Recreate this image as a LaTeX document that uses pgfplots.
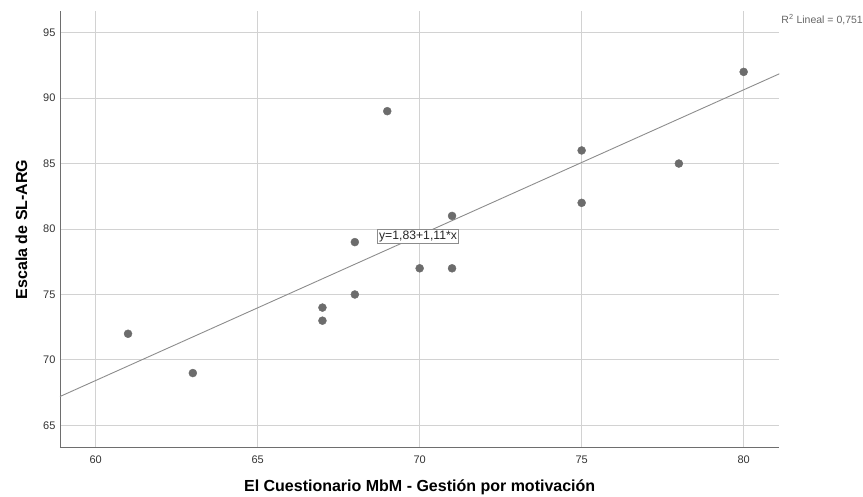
\documentclass[border=0pt]{standalone}
\usepackage{fontspec}
\setmainfont{Liberation Sans}
\usepackage{pgfplots}
\pgfplotsset{compat=1.18}
\definecolor{dotc}{RGB}{108,108,108}
\definecolor{gridc}{RGB}{210,210,210}
\definecolor{linec}{RGB}{140,140,140}
\definecolor{spinec}{RGB}{110,110,110}
\begin{document}
\begin{tikzpicture}
\useasboundingbox (-60pt,-49.3pt) rectangle (803pt,447.7pt);
\begin{axis}[
  scale only axis,
  width=719.3pt, height=436.7pt,
  xmin=58.9, xmax=81.1, ymin=63.3, ymax=96.65,
  xtick={60,65,70,75,80}, ytick={65,70,75,80,85,90,95},
  grid=major,
  major grid style={gridc, line width=1pt},
  major tick length=0pt,
  axis x line*=bottom, axis y line*=left,
  axis line style={spinec, line width=0.8pt, -},
  tick label style={font=\fontsize{11}{13}\selectfont, text=black!80},
  /pgf/number format/assume math mode=true,
  xticklabel style={yshift=-5pt},
  yticklabel style={xshift=-1pt},
  xlabel={\bfseries El Cuestionario MbM - Gestión por motivación},
  ylabel={\bfseries Escala de SL-ARG},
  label style={font=\fontsize{16}{18}\selectfont},
  xlabel style={yshift=-9pt},
  ylabel style={yshift=9pt},
  clip=false,
]
\addplot[only marks, mark=*, mark size=4pt, mark options={fill=dotc, draw=dotc}] coordinates {
  (61,72) (63,69) (67,74) (67,73) (68,75) (68,79) (69,89) (70,77)
  (71,77) (71,81) (75,86) (75,82) (78,85) (80,92)
};
\addplot[linec, line width=0.9pt] coordinates {(58.9,67.209) (81.1,91.851)};
\node[draw=linec, fill=white, inner sep=1.5pt, font=\fontsize{12.2}{14}\selectfont, text=black!85] at (axis cs:69.95,79.45) {y=1,83+1,11*x};
\end{axis}
\node[anchor=east, inner sep=0pt, font=\fontsize{10.5}{12}\selectfont, text=black!60] at (803pt,427.7pt) {R\textsuperscript{2} Lineal = 0,751};
\end{tikzpicture}
\end{document}
